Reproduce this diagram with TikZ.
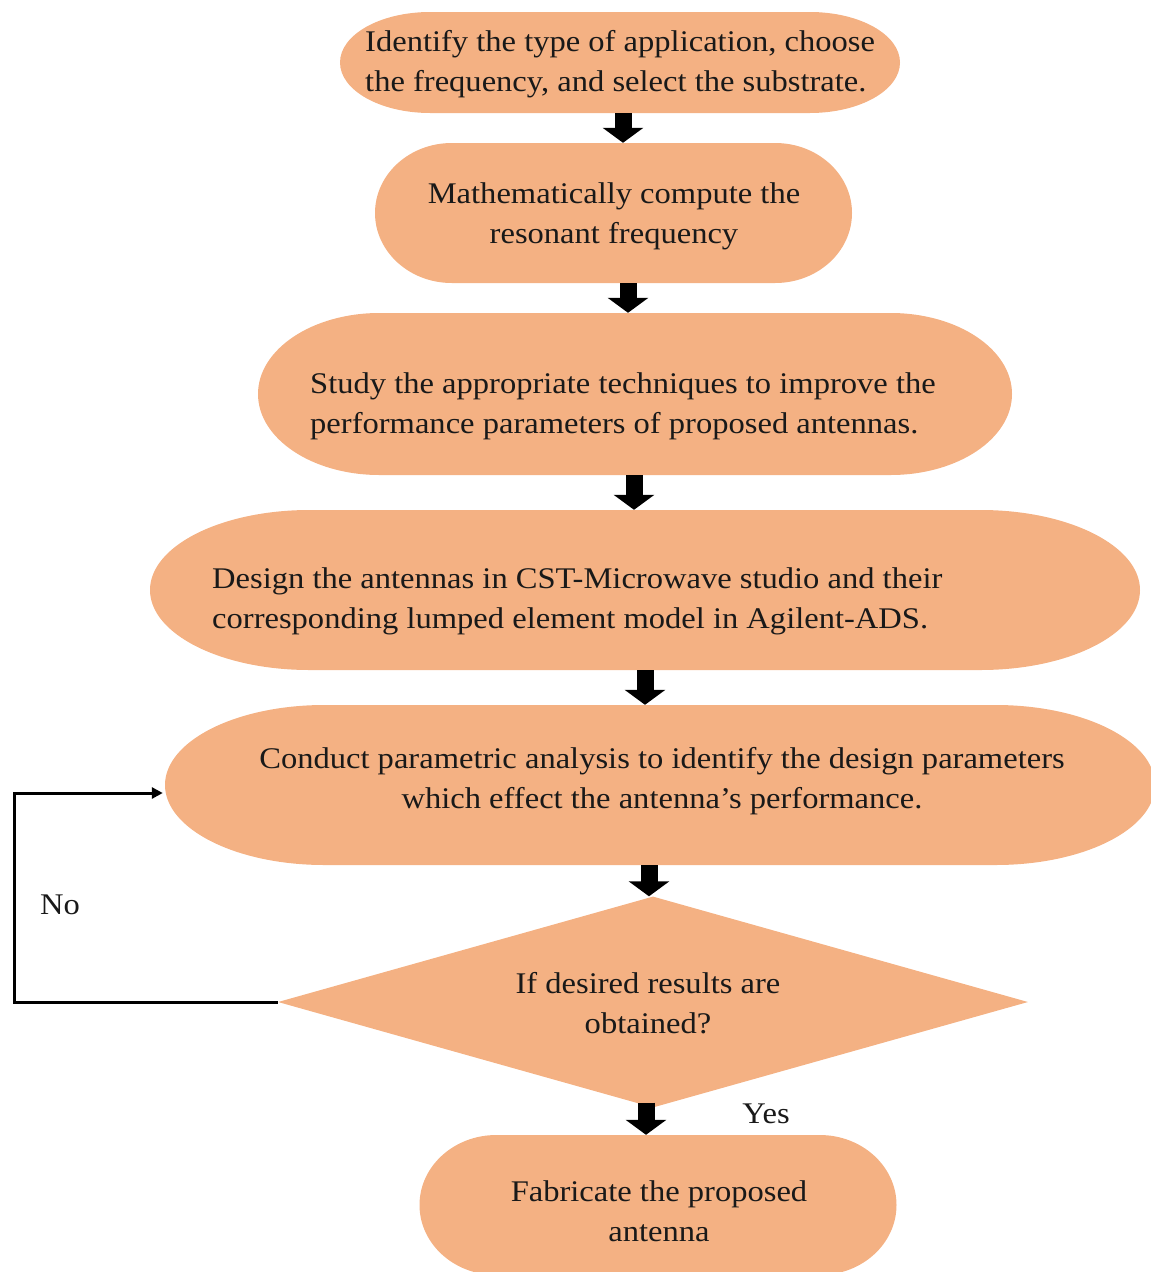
\documentclass[tikz,border=0pt]{standalone}
\usepackage{fontspec}
\setmainfont[FakeStretch=1.085]{Liberation Serif}
\usetikzlibrary{arrows.meta,shapes.geometric}
\definecolor{boxfill}{HTML}{F4B183}
\newcommand\termbox[5]{%
 \pgfmathsetmacro\tbL{#2-#4/2}\pgfmathsetmacro\tbR{#2+#4/2}%
 \pgfmathsetmacro\tbT{#3-#5/2}\pgfmathsetmacro\tbB{#3+#5/2}%
 \pgfmathsetmacro\tbrx{0.161*#4}\pgfmathsetmacro\tbry{#5/2}%
 \pgfmathsetmacro\tbkx{0.5523*\tbrx}\pgfmathsetmacro\tbky{0.5523*\tbry}%
 \fill[boxfill] (\tbL+\tbrx,\tbT) -- (\tbR-\tbrx,\tbT)
   .. controls (\tbR-\tbrx+\tbkx,\tbT) and (\tbR,#3-\tbky) .. (\tbR,#3)
   .. controls (\tbR,#3+\tbky) and (\tbR-\tbrx+\tbkx,\tbB) .. (\tbR-\tbrx,\tbB)
   -- (\tbL+\tbrx,\tbB)
   .. controls (\tbL+\tbrx-\tbkx,\tbB) and (\tbL,#3+\tbky) .. (\tbL,#3)
   .. controls (\tbL,#3-\tbky) and (\tbL+\tbrx-\tbkx,\tbT) .. (\tbL+\tbrx,\tbT) -- cycle;
 \node[minimum width=#4, minimum height=#5, inner sep=0] (#1) at (#2,#3) {};%
}
\begin{document}
\begin{tikzpicture}[x=1pt,y=-1pt,
  txt/.style={font=\fontsize{30}{40}\selectfont, align=center, inner sep=0, text=black!90},
  ltxt/.style={txt, align=left, anchor=west},
  blk/.style={line width=17pt, -{Triangle[width=40pt,length=15pt]}},
  loopline/.style={line width=3pt, -{Triangle[width=11pt,length=11pt]}}]
\useasboundingbox (0,0) rectangle (1151,1272);
\termbox{b1}{620}{62.5}{560}{101}
\termbox{b2}{613.5}{213}{477}{140}
\termbox{b3}{635}{394}{754}{162}
\termbox{b4}{645}{590}{990}{160}
\termbox{b5}{660}{785}{990}{160}
\node[diamond, fill=boxfill, minimum width=750pt, minimum height=211pt, inner sep=0] (d) at (653,1002) {};
\termbox{b7}{658}{1205}{477}{140}

\node[ltxt] (t1) at (365,64) {Identify the type of application, choose\\the frequency, and select the substrate.};
\node[txt] (t2) at (614,216) {Mathematically compute the\\resonant frequency};
\node[ltxt] (t3) at (310,406) {Study the appropriate techniques to improve the\\performance parameters of proposed antennas.};
\node[ltxt] (t4) at (212,601) {Design the antennas in CST-Microwave studio and their\\corresponding lumped element model in Agilent-ADS.};
\node[txt] (t5) at (662,781) {Conduct parametric analysis to identify the design parameters\\which effect the antenna's performance.};
\node[txt] (t6) at (648,1003) {If desired results are\\obtained?};
\node[txt] (t7) at (659,1211) {Fabricate the proposed\\antenna};

\draw[blk] (b1.south -| 623,0) -- (b2.north -| 623,0);
\draw[blk] (b2.south -| 628,0) -- (b3.north -| 628,0);
\draw[blk] (b3.south -| 634,0) -- (b4.north -| 634,0);
\draw[blk] (b4.south -| 645,0) -- (b5.north -| 645,0);
\draw[blk] (b5.south -| 649,0) -- (d.north -| 649,0);
\draw[blk] (d.south -| 646,0) ++(0,-5) -- (b7.north -| 646,0);

\coordinate (lp) at (14,793);
\draw[loopline] (d.west) -- (d.west -| lp) -- (lp) -- ([xshift=-2pt,yshift=-8pt]b5.west);
\node[txt] (no) at (60,905) {No};
\node[txt] (yes) at (766,1114) {Yes};
\end{tikzpicture}
\end{document}
